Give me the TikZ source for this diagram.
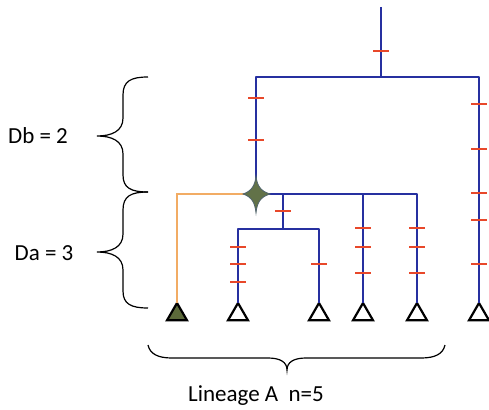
\documentclass[tikz,border=0pt]{standalone}
\usepackage{fontspec}
\setmainfont{Carlito}
\usetikzlibrary{shapes.geometric}
\definecolor{treeblue}{RGB}{38,48,160}
\definecolor{tickred}{RGB}{232,72,42}
\definecolor{branchorange}{RGB}{242,172,100}
\definecolor{olivefill}{RGB}{92,106,58}
\definecolor{starfill}{RGB}{98,114,72}
\definecolor{staredge}{RGB}{80,100,110}
\tikzset{
  tree/.style={draw=treeblue, line width=2.2pt, line join=round},
  orangeline/.style={draw=branchorange, line width=2.2pt},
  tickmark/.style={draw=tickred, line width=2.4pt},
  tip/.style={regular polygon, regular polygon sides=3, minimum size=23pt, inner sep=0pt, outer sep=0pt, draw=black, line width=2.2pt, fill=white, anchor=corner 1},
  brace/.style={draw=black, line width=1.2pt},
  lbl/.style={font=\fontsize{23}{27}\selectfont, inner sep=0pt}
}
\begin{document}
\begin{tikzpicture}[x=1pt, y=-1pt]
\useasboundingbox (0,0) rectangle (489,409);
% coordinates
\coordinate (top) at (381,7);
\coordinate (rootj) at (381,77);
\coordinate (star) at (256,194);
\coordinate (j1) at (283,194);
\coordinate (j1b) at (283,229);
\coordinate (j2) at (363,194);
% tips
\node[tip, fill=olivefill] (t1) at (177,303) {};
\node[tip] (t2) at (238,303) {};
\node[tip] (t3) at (319,303) {};
\node[tip] (t4) at (363,303) {};
\node[tip] (t5) at (417,303) {};
\node[tip] (t6) at (479,303) {};
% tree lines
\draw[tree] (top) -- (rootj);
\draw[tree] (star) |- (rootj) -| (t6.corner 1);
\draw[tree] (star) -| (t5.corner 1);
\draw[tree] (j2) -- (t4.corner 1);
\draw[tree] (j1) -- (j1b);
\draw[tree] (t2.corner 1) |- (j1b) -| (t3.corner 1);
\draw[orangeline] (star) -| (t1.corner 1);
% ticks
\foreach \x/\y in {381/51, 256/98, 256/140,
  479/104, 479/149, 479/193, 479/220, 479/264,
  283/211, 238/247, 238/264, 238/282, 319/264,
  363/228, 363/247, 363/273, 417/228, 417/247, 417/273}
  \draw[tickmark] (\x-8,\y) -- (\x+8,\y);
% star
\filldraw[fill=starfill, draw=staredge, line width=0.8pt]
  (256,176) .. controls (257,185) and (260,191) .. (270,194)
  .. controls (260,197) and (257,203) .. (256,213)
  .. controls (255,203) and (252,197) .. (243,194)
  .. controls (252,191) and (255,185) .. (256,176) -- cycle;
% braces
\draw[brace] (148,77) .. controls (131,77) and (123,81) .. (123,95) -- (123,118)
  .. controls (123,131) and (112,136) .. (97,136)
  .. controls (112,136) and (123,141) .. (123,154) -- (123,175)
  .. controls (123,188) and (131,192) .. (148,192);
\draw[brace] (148,192) .. controls (131,192) and (123,196) .. (123,210) -- (123,234)
  .. controls (123,247) and (112,252) .. (97,252)
  .. controls (112,252) and (123,257) .. (123,270) -- (123,291)
  .. controls (123,304) and (131,308) .. (148,308);
\draw[brace] (148,345) .. controls (150,354) and (158,358) .. (172,358) -- (268,358)
  .. controls (280,358) and (287,362) .. (287,370)
  .. controls (287,362) and (294,358) .. (306,358) -- (421,358)
  .. controls (435,358) and (443,354) .. (445,345);
% labels
\node[lbl] (db) at (38,136) {Db = 2};
\node[lbl] (da) at (44,253) {Da = 3};
\node[lbl] (lin) at (256,396) {Lineage A~~n=5};
\end{tikzpicture}
\end{document}
